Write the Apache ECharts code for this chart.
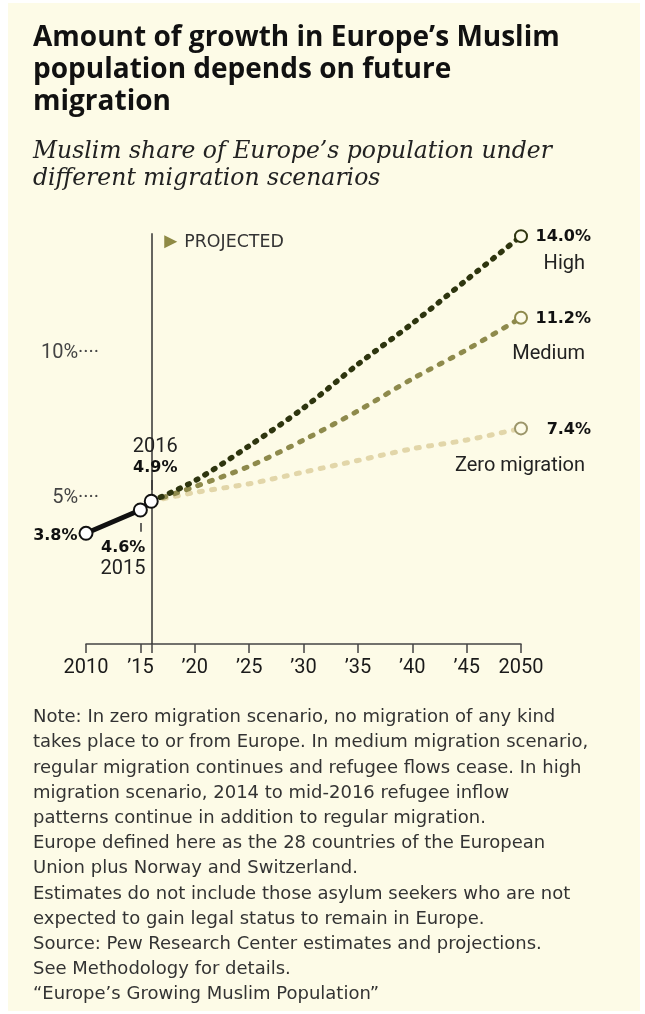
<!DOCTYPE html>
<html><head><meta charset="utf-8">
<script src="https://cdn.jsdelivr.net/npm/echarts@6/dist/echarts.min.js"></script>
<style>html,body{margin:0;padding:0;background:#fff;}#c{width:645px;height:1014px;}</style>
</head><body><div id="c"></div>
<script>
// ---- data ----
const histYears = [2010, 2015, 2016];
const histValues = [3.8, 4.6, 4.9];
const projYears = [2016, 2020, 2025, 2030, 2035, 2040, 2045, 2050];
const highValues = [4.9, 5.6, 6.8, 8.1, 9.6, 11.0, 12.5, 14.0];
const mediumValues = [4.9, 5.4, 6.1, 7.0, 8.0, 9.1, 10.1, 11.2];
const zeroValues = [4.9, 5.2, 5.5, 5.9, 6.3, 6.7, 7.0, 7.4];
const scenarioNames = ['High', 'Medium', 'Zero migration'];
const xLabelValues = [2010, 2015, 2020, 2025, 2030, 2035, 2040, 2045, 2050];
const xTickLabels = ['2010', '\u201915', '\u201920', '\u201925', '\u201930', '\u201935', '\u201940', '\u201945', '2050'];
const yLabelValues = [5, 10];
const yTickLabels = ['5%\u00b7\u00b7\u00b7\u00b7', '10%\u00b7\u00b7\u00b7\u00b7'];
const projectedYear = 2016;

const titleText = 'Amount of growth in Europe\u2019s Muslim\npopulation depends on future\nmigration';
const subtitleText = 'Muslim share of Europe\u2019s population under\ndifferent migration scenarios';
const noteLines = [
  'Note: In zero migration scenario, no migration of any kind',
  'takes place to or from Europe. In medium migration scenario,',
  'regular migration continues and refugee flows cease. In high',
  'migration scenario, 2014 to mid-2016 refugee inflow',
  'patterns continue in addition to regular migration.',
  'Europe defined here as the 28 countries of the European',
  'Union plus Norway and Switzerland.',
  'Estimates do not include those asylum seekers who are not',
  'expected to gain legal status to remain in Europe.',
  'Source: Pew Research Center estimates and projections.',
  'See Methodology for details.',
  '\u201cEurope\u2019s Growing Muslim Population\u201d'
];

// ---- styles ----
const CREAM = '#fdfbe7';
const BOLD = {fontFamily: 'DejaVu Sans', fontWeight: 'bold', fontSize: 16, color: '#111', lineHeight: 21};
const REG = {fontFamily: 'Roboto', fontSize: 20, color: '#222', lineHeight: 22};
const pct = v => v.toFixed(1) + '%';

const chart = echarts.init(document.getElementById('c'), null, {renderer: 'canvas'});

const histLabels = [
  {show: true, position: 'left', distance: 1, offset: [0, 3], formatter: pct(histValues[0]), ...BOLD},
  {show: true, position: 'bottom', align: 'right', distance: 0, offset: [5, 20],
   formatter: '{b|' + pct(histValues[1]) + '}\n{n|' + histYears[1] + '}', rich: {b: BOLD, n: REG}},
  {show: true, position: 'top', distance: 15, offset: [4, 0],
   formatter: '{n|' + histYears[2] + '}\n{b|' + pct(histValues[2]) + '}', rich: {b: BOLD, n: REG}}
];

function projSeries(idx, values, color, markerColor, width, dash, nameDy) {
  const last = values.length - 1;
  return {
    type: 'line', name: scenarioNames[idx], z: 3 - idx * 0.1, smooth: 0.3, silent: true,
    symbol: 'circle', showAllSymbol: true, clip: false,
    data: projYears.map((y, i) => i === last ? {
      value: [y, values[i]], symbol: 'circle', symbolSize: 12,
      itemStyle: {color: CREAM, borderColor: markerColor, borderWidth: 2},
      label: {show: true, position: 'right', align: 'right', distance: 0, offset: [63, 1],
        formatter: pct(values[i]), ...BOLD}
    } : {value: [y, values[i]], symbol: 'none'}),
    lineStyle: {color: color, width: width, type: dash, cap: 'round'},
    endLabel: {show: true, formatter: scenarioNames[idx], align: 'right', distance: 0,
      offset: [64, nameDy], fontFamily: 'Roboto', fontSize: 20, color: '#222'}
  };
}

chart.setOption({
  animation: false,
  backgroundColor: '#fff',
  textStyle: {fontFamily: 'Roboto'},
  title: [
    {text: titleText, left: 33, top: 22, padding: 0,
     textStyle: {fontFamily: 'Open Sans', fontWeight: 'bold', fontSize: 28, lineHeight: 32, color: '#111'}},
    {text: subtitleText, left: 33, top: 138, padding: 0,
     textStyle: {fontFamily: 'DejaVu Serif', fontStyle: 'italic', fontWeight: 'normal', fontSize: 23.5, lineHeight: 27, color: '#222'}},
    {text: noteLines.join('\n'), left: 33, top: 705, padding: 0,
     textStyle: {fontFamily: 'DejaVu Sans', fontWeight: 'normal', fontSize: 18, lineHeight: 25.2, color: '#333'}}
  ],
  grid: {left: 86, right: 124, top: 207, bottom: 370, containLabel: false},
  xAxis: {
    type: 'value', min: 2010, max: 2050, interval: 5,
    axisLine: {onZero: false, lineStyle: {color: '#444', width: 1.5}},
    axisTick: {show: true, length: 9, customValues: xLabelValues.concat([projectedYear]),
      lineStyle: {color: '#444', width: 1.5}},
    axisLabel: {customValues: xLabelValues, margin: 14, fontSize: 20, fontFamily: 'Roboto', color: '#1a1a1a',
      formatter: v => xTickLabels[xLabelValues.indexOf(v)]},
    splitLine: {show: false}
  },
  yAxis: {
    type: 'value', min: 0, max: 15, interval: 5,
    axisLine: {show: false}, axisTick: {show: false}, splitLine: {show: false},
    axisLabel: {customValues: yLabelValues, margin: -13, align: 'right', fontSize: 20, fontFamily: 'Roboto', color: '#444',
      formatter: v => yTickLabels[yLabelValues.indexOf(v)]}
  },
  series: [
    projSeries(2, zeroValues, '#e2d6a9', '#9c966a', 5, [3, 9.3], 38),
    projSeries(1, mediumValues, '#8e8a4c', '#8e8a4c', 5, [3, 9.3], 36),
    projSeries(0, highValues, '#2e350f', '#2e350f', 5.5, [1.7, 8.3], 28),
    {
      type: 'line', name: 'Estimated', z: 6, silent: true, clip: false,
      data: histYears.map((y, i) => ({value: [y, histValues[i]], label: histLabels[i]})),
      symbol: 'circle', symbolSize: 13,
      itemStyle: {color: '#fff', borderColor: '#111', borderWidth: 2},
      lineStyle: {color: '#111', width: 5},
      markLine: {
        silent: true, symbol: ['none', 'none'], label: {show: false}, z: 1,
        lineStyle: {color: '#333', width: 1.5, type: 'solid'},
        data: [
          [{coord: [projectedYear, 0]}, {coord: [projectedYear, 14.1]}],
          [{coord: [histYears[1], 4.15]}, {coord: [histYears[1], 3.85]}],
          [{coord: [histYears[2], 5.63]}, {coord: [histYears[2], 5.29]}]
        ]
      }
    }
  ]
});

const pTop = chart.convertToPixel({gridIndex: 0}, [projectedYear, 14.1]);
chart.setOption({
  graphic: [
    {type: 'rect', z: -100, silent: true, shape: {x: 8, y: 3, width: 632, height: 1008}, style: {fill: CREAM}},
    {type: 'polygon', z: 10, silent: true,
     shape: {points: [[pTop[0] + 13, pTop[1] + 2], [pTop[0] + 13, pTop[1] + 15], [pTop[0] + 26, pTop[1] + 8.5]]},
     style: {fill: '#8f8a45'}},
    {type: 'text', z: 10, silent: true, x: pTop[0] + 33, y: pTop[1] + 9,
     style: {text: 'PROJECTED', fontFamily: 'DejaVu Sans', fontSize: 17.4, fill: '#333', verticalAlign: 'middle'}}
  ]
});
</script></body></html>
